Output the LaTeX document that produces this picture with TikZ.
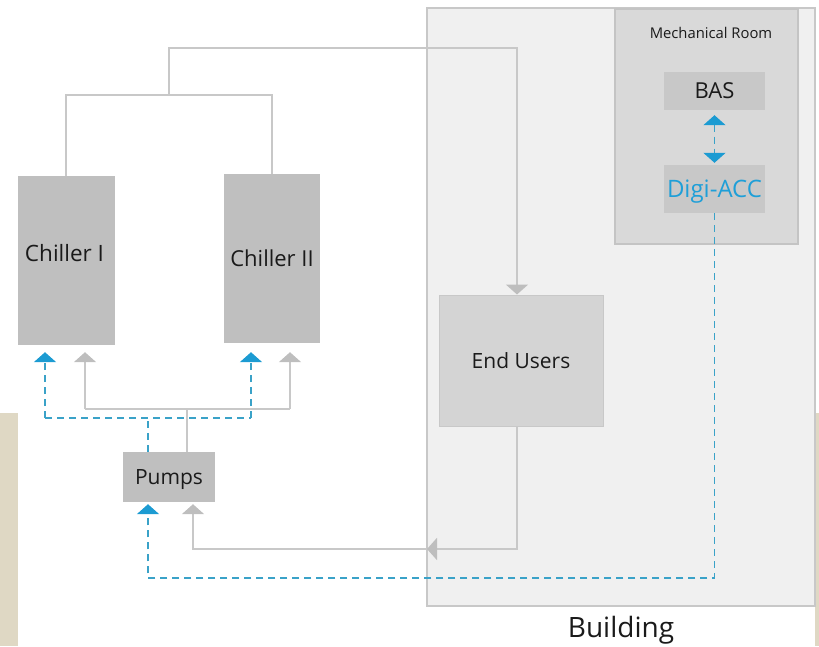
\documentclass[tikz,border=0pt]{standalone}
\usepackage{fontspec}
\setmainfont{Open Sans}
\usetikzlibrary{arrows.meta}
\definecolor{beige}{HTML}{DFD8C4}
\definecolor{bldfill}{HTML}{F0F0F0}
\definecolor{bldline}{HTML}{C8C8C8}
\definecolor{mrfill}{HTML}{D9D9D9}
\definecolor{mrline}{HTML}{C4C4C4}
\definecolor{boxgray}{HTML}{BFBFBF}
\definecolor{boxmid}{HTML}{C8C8C8}
\definecolor{boxlight}{HTML}{D4D4D4}
\definecolor{pipegray}{HTML}{C8C8C8}
\definecolor{headgray}{HTML}{BEBEBE}
\definecolor{ctrlblue}{HTML}{3AA2C8}
\definecolor{headblue}{HTML}{1C9BD2}
\definecolor{txtblue}{HTML}{1E9FD8}
\definecolor{txtdark}{HTML}{1A1A1A}
\begin{document}
\begin{tikzpicture}[x=1pt,y=-1pt,
  box/.style={draw=none, fill=boxgray, inner sep=0pt, text=txtdark, text depth=0pt,
    font=\fontsize{21}{25}\selectfont},
  pipe/.style={draw=pipegray, line width=1.9pt},
  gtip/.style={-{Triangle[width=22pt,length=10pt,color=headgray]}},
  ctrl/.style={draw=ctrlblue, line width=1.9pt, dash pattern=on 7pt off 5pt},
  btip/.style={-{Triangle[width=22pt,length=10pt,color=headblue]}},
  bbtip/.style={{Triangle[width=22pt,length=10pt,color=headblue]}-{Triangle[width=22pt,length=10pt,color=headblue]}},
]
\useasboundingbox (0,0) rectangle (819,646);
% beige background strips
\fill[beige] (0,413) rectangle (18,646);
\fill[beige] (815,413) rectangle (819,646);
% building
\node[draw=bldline, fill=bldfill, line width=1.5pt, minimum width=388, minimum height=598, inner sep=0pt] (bld) at (621,307) {};
\node[font=\fontsize{28}{32}\selectfont, text=txtdark] (bldlabel) at (621,630) {Building};
% mechanical room
\node[draw=mrline, fill=mrfill, line width=1.2pt, minimum width=183, minimum height=235, inner sep=0pt] (mr) at (706.5,126.5) {};
\node[font=\fontsize{14.8}{17}\selectfont, text=txtdark] (mrlabel) at (711,33) {Mechanical Room};
\node[box, fill=boxmid, minimum width=101, minimum height=38, font=\fontsize{22}{26}\selectfont] (bas) at (714.5,91) {BAS};
\node[box, fill=boxmid, minimum width=101, minimum height=48, text=txtblue, font=\fontsize{24}{28}\selectfont] (digi) at (714.5,189) {Digi-ACC};
% chillers, pumps, end users
\node[box, minimum width=97, minimum height=169,
  label={[font=\fontsize{22.5}{26}\selectfont, text=txtdark, text depth=0pt, yshift=8pt, xshift=-2pt]center:Chiller I}] (c1) at (66.5,260.5) {};
\node[box, minimum width=96, minimum height=169, font=\fontsize{22}{26}\selectfont] (c2) at (272,258.5) {Chiller II};
\node[box, minimum width=92, minimum height=50] (pumps) at (169,477) {Pumps};
\node[box, fill=boxlight, draw=boxmid, line width=1pt, minimum width=164, minimum height=131] (eu) at (521,360.5) {End Users};
% junction coordinates
\coordinate (jtop) at (169,95);
\coordinate (jhigh) at (517,48);
\coordinate (jret) at (427,549);
\coordinate (jp) at (187,409);
\coordinate (jb) at (148,418);
\coordinate (jd) at (714.5,578);
% supply pipes chillers -> end users
\draw[pipe] (c1.north -| 66,0) -- (66,95) -- (272,95) -- (c2.north -| 272,0);
\draw[pipe, gtip] (jtop) -- (169,48) -- (jhigh) -- (eu.north -| jhigh);
% return end users -> pumps
\draw[pipe, gtip] (eu.south -| jhigh) -- (517,549) -- (jret);
\draw[pipe, gtip, shorten >=2pt] (jret) -- (193,549) -- (pumps.south -| 193,0);
% pumps -> chillers
\draw[pipe] (pumps.north -| jp) -- (jp);
\draw[pipe, gtip, shorten >=7pt] (85,409) -- (c1.south -| 85,0);
\draw[pipe] (85,409) -- (290,409);
\draw[pipe, gtip, shorten >=9pt] (290,409) -- (c2.south -| 290,0);
% control lines
\draw[ctrl] (pumps.north -| jb) -- (jb);
\draw[ctrl, btip, shorten >=7pt] (45,418) -- (c1.south -| 45,0);
\draw[ctrl] (45,418) -- (251,418);
\draw[ctrl, btip, shorten >=9pt] (251,418) -- (c2.south -| 251,0);
\draw[ctrl, btip, shorten >=2pt] (digi.south) -- (jd) -- (148,578) -- (pumps.south -| jb);
\draw[ctrl, bbtip, shorten <=5pt, shorten >=2pt] (bas.south) -- (digi.north);
\end{tikzpicture}
\end{document}
